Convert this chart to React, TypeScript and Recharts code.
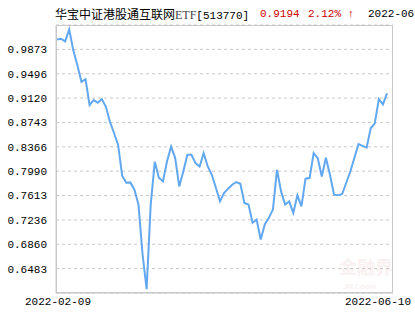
import React from 'react';
import { LineChart, Line, XAxis, YAxis, CartesianGrid } from 'recharts';

// trading days shown on the chart
const dates = [
  '2022-02-09', '2022-02-10', '2022-02-11', '2022-02-14', '2022-02-15', '2022-02-16', '2022-02-17',
  '2022-02-18', '2022-02-21', '2022-02-22', '2022-02-23', '2022-02-24', '2022-02-25', '2022-02-28',
  '2022-03-01', '2022-03-02', '2022-03-03', '2022-03-04', '2022-03-07', '2022-03-08', '2022-03-09',
  '2022-03-10', '2022-03-11', '2022-03-14', '2022-03-15', '2022-03-16', '2022-03-17', '2022-03-18',
  '2022-03-21', '2022-03-22', '2022-03-23', '2022-03-24', '2022-03-25', '2022-03-28', '2022-03-29',
  '2022-03-30', '2022-03-31', '2022-04-01', '2022-04-06', '2022-04-07', '2022-04-08', '2022-04-11',
  '2022-04-12', '2022-04-13', '2022-04-14', '2022-04-15', '2022-04-18', '2022-04-19', '2022-04-20',
  '2022-04-21', '2022-04-22', '2022-04-25', '2022-04-26', '2022-04-27', '2022-04-28', '2022-04-29',
  '2022-05-05', '2022-05-06', '2022-05-09', '2022-05-10', '2022-05-11', '2022-05-12', '2022-05-13',
  '2022-05-16', '2022-05-17', '2022-05-18', '2022-05-19', '2022-05-20', '2022-05-23', '2022-05-24',
  '2022-05-25', '2022-05-26', '2022-05-27', '2022-05-30', '2022-05-31', '2022-06-01', '2022-06-02',
  '2022-06-06', '2022-06-07', '2022-06-08', '2022-06-09', '2022-06-10',
];

// net value per day
const navValues = [
  1.0027, 1.0038, 0.9996, 1.0181, 0.9858, 0.9627, 0.9370, 0.9411, 0.9011, 0.9088,
  0.9047, 0.9104, 0.8985, 0.8754, 0.8580, 0.8396, 0.7919, 0.7811, 0.7816, 0.7703,
  0.7473, 0.6703, 0.6165, 0.7473, 0.8134, 0.7888, 0.7831, 0.8139, 0.8370, 0.8196,
  0.7754, 0.7985, 0.8242, 0.8242, 0.8114, 0.8062, 0.8268, 0.8062, 0.7934, 0.7734,
  0.7523, 0.7653, 0.7719, 0.7780, 0.7822, 0.7796, 0.7499, 0.7473, 0.7191, 0.7242,
  0.6934, 0.7165, 0.7268, 0.7396, 0.8011, 0.7677, 0.7473, 0.7523, 0.7345, 0.7616,
  0.7446, 0.7873, 0.7883, 0.8268, 0.8191, 0.7908, 0.8196, 0.7934, 0.7626, 0.7616,
  0.7637, 0.7811, 0.7985, 0.8196, 0.8407, 0.8380, 0.8354, 0.8653, 0.8730, 0.9104,
  0.9022, 0.9194,
];

const yTicks = [0.6483, 0.6860, 0.7236, 0.7613, 0.7990, 0.8366, 0.8743, 0.9120, 0.9496, 0.9873];
const yDomain = [0.6106, 1.0250];

const data = dates.map((d, i) => ({ date: d, nav: navValues[i] }));

const MONO = '"Liberation Mono", "DejaVu Sans Mono", monospace';

const DateTick = (props: any) => {
  const { x, y, payload } = props;
  const isLast = payload.value === dates[dates.length - 1];
  return (
    <text
      x={isLast ? x + 24 : x + 1}
      y={y + 4}
      textAnchor={isLast ? 'end' : 'middle'}
      fontSize={11}
      fontFamily={MONO}
      fill="#000"
    >
      {payload.value}
    </text>
  );
};

export default function App() {
  return (
    <div style={{ position: 'absolute', left: 0, top: 0, width: 415, height: 330, overflow: 'hidden', background: '#fff' }}>
      <div style={{ position: 'absolute', left: 55, top: 6, fontSize: 12, lineHeight: '16px', whiteSpace: 'nowrap', fontFamily: '"Noto Sans CJK SC", sans-serif', color: '#000' }}>
        华宝中证港股通互联网<span style={{ fontFamily: '"Liberation Serif", serif', color: '#444' }}>ETF</span>
        <span style={{ fontFamily: MONO, fontSize: 11 }}>[513770]</span>
      </div>
      <div style={{ position: 'absolute', left: 260, top: 6, fontSize: 11, lineHeight: '16px', fontFamily: MONO, color: '#cc0000', whiteSpace: 'nowrap' }}>0.9194</div>
      <div style={{ position: 'absolute', left: 308, top: 6, fontSize: 11, lineHeight: '16px', fontFamily: MONO, color: '#cc0000', whiteSpace: 'nowrap' }}>2.12% ↑</div>
      <div style={{ position: 'absolute', left: 368, top: 6, fontSize: 11, lineHeight: '16px', fontFamily: MONO, color: '#000', whiteSpace: 'nowrap' }}>2022-06-10</div>
      <div style={{ position: 'absolute', left: 339, top: 257, fontSize: 18, lineHeight: '18px', fontWeight: 'bold', fontFamily: '"Noto Sans CJK SC", sans-serif', color: '#f9f0f1', whiteSpace: 'nowrap' }}>金融界</div>
      <div style={{ position: 'absolute', left: 343, top: 282, fontSize: 8, lineHeight: '9px', fontStyle: 'italic', fontWeight: 'bold', fontFamily: '"Liberation Sans", sans-serif', color: '#f9f0f1', whiteSpace: 'nowrap' }}>JRJ.com</div>

      <div style={{ position: 'absolute', left: 0, top: 0 }}>
        <LineChart width={415} height={330} data={data} margin={{ top: 25, right: 22, left: 0, bottom: 0 }}>
          <CartesianGrid vertical={false} stroke="#c8c8c8" strokeDasharray="3 3" />
          <XAxis
            dataKey="date"
            ticks={[dates[0], dates[dates.length - 1]]}
            interval={0}
            height={37}
            padding={{ left: 1, right: 6 }}
            axisLine={{ stroke: '#c8c8c8' }}
            tickLine={false}
            tick={<DateTick />}
          />
          <YAxis
            domain={yDomain}
            ticks={yTicks}
            width={56}
            interval={0}
            axisLine={{ stroke: '#c8c8c8' }}
            tickLine={false}
            tickMargin={3}
            tick={{ fontSize: 11, fontFamily: MONO, fill: '#000' }}
            tickFormatter={(v: number) => v.toFixed(4)}
          />
          <Line
            type="linear"
            dataKey="nav"
            stroke="#62a8f0"
            strokeWidth={2}
            dot={false}
            isAnimationActive={false}
          />
        </LineChart>
      </div>
      {/* frame round the plot area */}
      <div style={{ position: 'absolute', left: 56, top: 25, width: 337, height: 268, boxSizing: 'border-box', border: '1px solid #c8c8c8', pointerEvents: 'none' }} />
    </div>
  );
}
